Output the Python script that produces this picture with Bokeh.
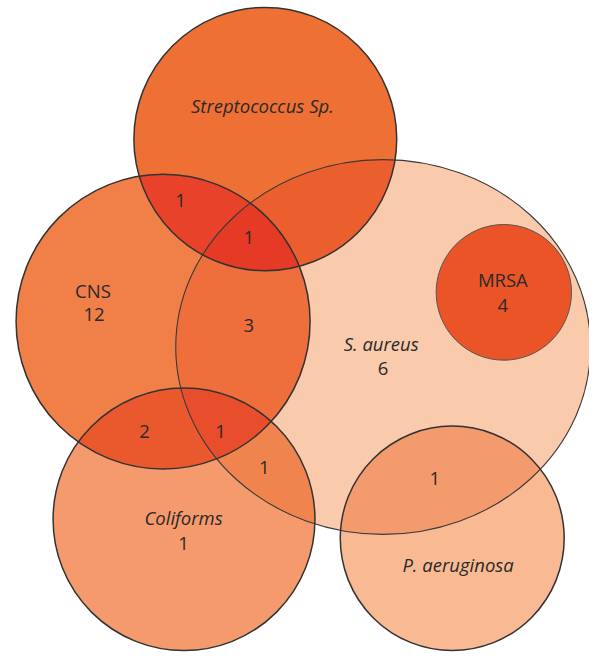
import numpy as np
from bokeh.plotting import figure
from bokeh.models import Range1d
from bokeh.core.properties import value
from bokeh.embed import file_html
from bokeh.resources import INLINE

# ---- sets (positions in reference-image pixels) ----
set_names = ["Streptococcus Sp.", "CNS", "S. aureus", "MRSA", "Coliforms", "P. aeruginosa"]
set_keys = ["strep", "cns", "sa", "mrsa", "col", "pae"]
set_x = [272, 167, 393, 517, 188.5, 464]
set_y = [142, 329, 355, 299, 531.5, 551]
set_rx = [135, 151, 213, 69.5, 134.5, 115]
set_ry = [135, 151, 192, 69.5, 134.5, 115]
set_fill = ["#EF7035", "#F07F48", "#F9CAAC", "#EB5427", "#F59A6D", "#F9BA93"]
set_line_w = [1.5, 1.5, 1.1, 1.0, 1.5, 1.5]
set_line_c = ["#333333", "#333333", "#3a3a3a", "#555555", "#333333", "#333333"]

# ---- overlap regions (intersection of listed sets) ----
region_sets = [["strep", "cns"], ["strep", "sa"], ["cns", "sa"], ["cns", "col"],
               ["col", "sa"], ["sa", "pae"], ["strep", "cns", "sa"], ["cns", "col", "sa"]]
region_fill = ["#E8432A", "#EB5F2F", "#EE6E3C", "#EA592E",
               "#F0844F", "#F39B6D", "#E53A26", "#E94E2C"]

# ---- labels ----
name_text = ["Streptococcus Sp.", "S. aureus", "Coliforms", "P. aeruginosa"]
name_x = [269, 391, 188, 470]
name_y = [108, 351, 530, 578]
plain_text = ["CNS", "MRSA"]
plain_x = [95, 516]
plain_y = [297, 286]
count_text = ["1", "1", "12", "3", "4", "6", "2", "1", "1", "1", "1"]
count_x = [185, 255, 96, 255, 516, 393, 148, 226, 271, 446, 188]
count_y = [205, 243, 322, 333, 312, 377, 442, 442, 478, 490, 556]

W, H = 589, 652
p = figure(width=W, height=H, x_range=Range1d(0, 605), y_range=Range1d(668, 0),
           output_backend="svg", toolbar_location=None, min_border=0)
p.axis.visible = False
p.grid.visible = False
p.outline_line_color = None
p.background_fill_color = "white"
p.border_fill_color = "white"

idx = {k: i for i, k in enumerate(set_keys)}

def boundary(i, n=1440):
    t = np.linspace(0, 2 * np.pi, n, endpoint=False)
    return set_x[i] + set_rx[i] * np.cos(t), set_y[i] + set_ry[i] * np.sin(t)

def inside(i, xs, ys):
    return ((xs - set_x[i]) / set_rx[i]) ** 2 + ((ys - set_y[i]) / set_ry[i]) ** 2 <= 1.0 + 1e-9

# base fills
for i in [idx["sa"], idx["strep"], idx["cns"], idx["col"], idx["pae"]]:
    p.ellipse(x=set_x[i], y=set_y[i], width=2 * set_rx[i], height=2 * set_ry[i],
              fill_color=set_fill[i], line_color=None)

# overlap patches (convex intersections)
pxs, pys = [], []
for members in region_sets:
    ids = [idx[m] for m in members]
    ax, ay = [], []
    for i in ids:
        bx, by = boundary(i)
        m = np.ones_like(bx, dtype=bool)
        for j in ids:
            if j != i:
                m &= inside(j, bx, by)
        ax.append(bx[m]); ay.append(by[m])
    ax = np.concatenate(ax); ay = np.concatenate(ay)
    cx, cy = ax.mean(), ay.mean()
    o = np.argsort(np.arctan2(ay - cy, ax - cx))
    pxs.append(list(ax[o])); pys.append(list(ay[o]))
p.patches(xs=pxs, ys=pys, fill_color=region_fill, line_color=None)

# MRSA on top
i = idx["mrsa"]
p.ellipse(x=set_x[i], y=set_y[i], width=2 * set_rx[i], height=2 * set_ry[i],
          fill_color=set_fill[i], line_color=None)

# outlines
for i in [idx["sa"], idx["mrsa"], idx["strep"], idx["cns"], idx["col"], idx["pae"]]:
    p.ellipse(x=set_x[i], y=set_y[i], width=2 * set_rx[i], height=2 * set_ry[i],
              fill_color=None, line_color=set_line_c[i], line_width=set_line_w[i])

txt_color = "#2a2a2a"
p.text(x=name_x, y=name_y, text=name_text, text_font=value("Open Sans"),
       text_font_style="italic", text_font_size="18.5px", text_color=txt_color,
       text_align="center", text_baseline="middle")
p.text(x=plain_x, y=plain_y, text=plain_text, text_font=value("Open Sans"),
       text_font_size="18.5px", text_color=txt_color,
       text_align="center", text_baseline="middle")
p.text(x=count_x, y=count_y, text=count_text, text_font=value("Open Sans"),
       text_font_size="18.5px", text_color=txt_color,
       text_align="center", text_baseline="middle")

open("out.html", "w").write(file_html(p, INLINE))
